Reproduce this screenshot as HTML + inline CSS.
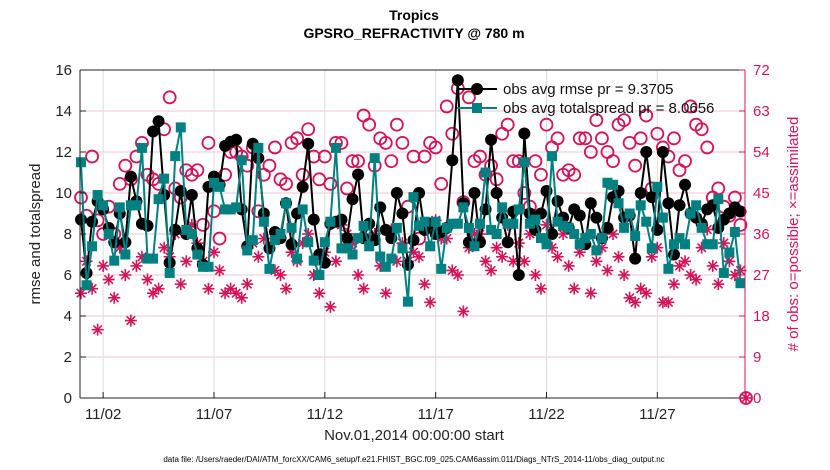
<!DOCTYPE html>
<html><head><meta charset="utf-8"><style>
body{margin:0;background:#fff;}
svg{display:block;font-family:"Liberation Sans",sans-serif;}
</style></head><body>
<svg id="chart" width="830" height="470" xmlns="http://www.w3.org/2000/svg"></svg>
<script>
const rmse=[8.7,6.1,8.6,9.6, 9.2,8.3,7.6,9.0, 7.6,10.8,9.6,8.5, 8.4,13.0,13.5,9.9, 6.6,8.2,10.1,8.0, 9.9,7.3,6.5,10.3, 10.8,10.4,12.3,12.5, 12.6,9.2,7.4,12.4, 11.7,9.0,7.3,8.1, 7.8,9.5,7.5,9.0, 10.3,12.4,8.7,7.0, 6.6,8.5,8.6,8.7, 7.8,9.7,10.9,7.8, 8.5,7.7,9.3,8.2, 7.8,10.0,9.0,6.5, 7.7,10.0,8.2,8.5, 8.0,8.1,8.3,11.6, 15.5,9.5,7.6,10.0, 7.6,9.2,12.6,10.0, 8.8,7.6,9.1,6.0, 12.9,9.0,8.2,9.0, 10.1,8.0,9.6,8.8, 8.3,9.2,8.9,7.5, 9.5,8.8,7.8,8.3, 9.8,10.1,8.8,8.9, 6.8,10.0,12.0,9.8, 8.2,12.0,9.5,7.0, 9.4,10.4,9.0,8.8, 8.5,9.2,9.4,8.3, 8.7,9.0,9.3,9.1];
const spread=[11.5,5.5,7.4,9.9, 9.4,8.0,6.7,9.3, 7.0,9.4,9.4,12.2, 6.8,6.8,9.7,10.7, 6.1,11.8,13.2,8.2, 8.0,7.0,6.4,6.4, 10.5,10.3,9.2,9.2, 9.3,11.6,7.2,7.7, 12.2,8.6,6.3,7.7, 8.0,9.5,8.3,6.8, 9.2,7.6,6.7,6.0, 7.6,8.6,12.2,7.3, 7.3,7.0,7.8,8.4, 7.4,11.7,6.9,6.4, 6.8,8.3,7.3,4.7, 9.8,8.4,8.6,7.4, 8.6,6.3,8.3,8.5, 8.5,9.3,8.3,7.4, 8.5,11.0,8.2,8.0, 9.3,8.5,8.5,9.2, 11.5,8.5,8.7,7.8, 7.5,11.8,8.6,8.4, 8.3,8.0,7.5,7.8, 8.0,7.2,7.8,10.5, 10.4,9.5,8.3,9.0, 7.9,9.4,8.6,7.3, 10.3,8.8,6.3,7.5, 7.8,7.5,9.0,9.4, 8.3,7.5,7.5,9.7, 6.1,7.1,8.1,5.6];
const possible=[44,40,53,39, 36,42,36,47, 51,48,53,56, 49,48,47,59, 66,46,44,50, 49,50,38,56, 41,35,49,54, 54,53,51,55, 41,49,51,55, 48,47,56,57, 49,59,53,48, 53,47,56,56, 46,52,52,62, 60,51,57,56, 52,60,56,42, 53,35,53,56, 55,47,64,58, 68,43,66,52, 53,49,51,48, 58,60,52,52, 45,42,52,49, 60,55,57,49, 50,49,57,57, 54,61,57,54, 52,60,61,56, 51,57,62,46, 58,55,53,57, 50,52,64,60, 59,55,44,46, 42,40,44,38, 0];
const assim=[23,30,24,15, 29,26,22,33, 27,17,29,31, 26,23,24,33, 31,36,25,30, 38,34,30,24, 32,28,23,24, 23,22,25,34, 31,35,33,28, 27,24,32,30, 34,36,27,23, 32,20,30,38, 36,34,27,24, 35,36,29,23, 37,30,34,30, 32,31,25,21, 39,35,35,28, 27,19,33,36, 36,30,28,33, 31,38,30,34, 30,36,27,24, 38,33,31,36, 29,24,32,35, 23,30,33,28, 36,31,27,22, 21,24,23,31, 33,21,21,25, 29,30,27,26, 33,37,29,25, 34,30,27,28, 0];
const xTicks=[1,6,11,16,21,26];
const xTickLabels=["11/02","11/07","11/12","11/17","11/22","11/27"];
const yTicks=[0,2,4,6,8,10,12,14,16];
const y2Ticks=[0,9,18,27,36,45,54,63,72];

const NS="http://www.w3.org/2000/svg";
const svg=document.getElementById('chart');
const L=80,R=745,T=70,B=398;
const PINK="#d4145a",TEAL="#008080";
const xs=t=>L+1+(R-L)/30*t;
const ys=v=>B-(B-T)*v/16;
const ys2=v=>B-(B-T)*v/72;
function el(tag,attrs,parent){const e=document.createElementNS(NS,tag);for(const k in attrs)e.setAttribute(k,attrs[k]);(parent||svg).appendChild(e);return e;}
function txt(s,attrs,parent){const e=el('text',attrs,parent);e.textContent=s;return e;}

// grid
const grid=el('g',{});


yTicks.forEach(v=>{if(v>0&&v<16)el('line',{x1:L,x2:R,y1:ys(v),y2:ys(v),stroke:'#f2c6d6','stroke-width':1},grid);});
xTicks.forEach(t=>el('line',{x1:xs(t),x2:xs(t),y1:T,y2:B,stroke:'#dcdcdc','stroke-width':1},grid));

// series
const tOf=i=>i*0.25;
const plot=el('g',{});


function star(cx,cy,parent){
  const g=el('g',{stroke:PINK,'stroke-width':1.6},parent);
  const r=6;
  for(let k=0;k<4;k++){const a=Math.PI/4*k;el('line',{x1:cx-r*Math.cos(a),y1:cy-r*Math.sin(a),x2:cx+r*Math.cos(a),y2:cy+r*Math.sin(a)},g);}
  return g;
}
// possible circles
possible.forEach((v,i)=>{const c=el('circle',{cx:xs(tOf(i)),cy:ys2(v),r:6,fill:'none',stroke:PINK,'stroke-width':1.8},plot);

});
// assimilated stars
assim.forEach((v,i)=>{const g=star(xs(tOf(i)),ys2(v),plot);

});
// rmse line
const rl=el('polyline',{points:rmse.map((v,i)=>xs(tOf(i))+','+ys(v)).join(' '),fill:'none',stroke:'#000','stroke-width':2},plot);


rmse.forEach((v,i)=>{const c=el('circle',{cx:xs(tOf(i)),cy:ys(v),r:6,fill:'#000'},plot);

});
// spread line
const sl=el('polyline',{points:spread.map((v,i)=>xs(tOf(i))+','+ys(v)).join(' '),fill:'none',stroke:TEAL,'stroke-width':2},plot);


spread.forEach((v,i)=>{const r=el('rect',{x:xs(tOf(i))-5,y:ys(v)-5,width:10,height:10,fill:TEAL},plot);

});

// axes box
el('line',{x1:L,x2:R,y1:T,y2:T,stroke:'#222','stroke-width':1});
el('line',{x1:L,x2:R,y1:B,y2:B,stroke:'#222','stroke-width':1});
el('line',{x1:L,x2:L,y1:T,y2:B,stroke:'#222','stroke-width':1});
el('line',{x1:R,x2:R,y1:T,y2:B,stroke:PINK,'stroke-width':1});
yTicks.forEach(v=>{el('line',{x1:L,x2:L+6,y1:ys(v),y2:ys(v),stroke:'#222'});
const t=txt(String(v),{x:L-8,y:ys(v)+5,'text-anchor':'end','font-size':15,fill:'#222'});

});
y2Ticks.forEach(v=>{el('line',{x1:R-6,x2:R,y1:ys2(v),y2:ys2(v),stroke:PINK});
const t=txt(String(v),{x:R+8,y:ys2(v)+5,'font-size':15,fill:PINK});

});
xTicks.forEach((t0,i)=>{el('line',{x1:xs(t0),x2:xs(t0),y1:B,y2:B-6,stroke:'#222'});
const t=txt(xTickLabels[i],{x:xs(t0),y:B+21,'text-anchor':'middle','font-size':15,fill:'#222'});

});
</script>
<svg width="830" height="470" style="position:absolute;left:0;top:0">
<text x="414" y="20" text-anchor="middle" font-size="14" font-weight="bold" font-family="Liberation Sans,sans-serif" fill="#000">Tropics</text>
<text x="414" y="38" text-anchor="middle" font-size="14" font-weight="bold" font-family="Liberation Sans,sans-serif" fill="#000">GPSRO_REFRACTIVITY @ 780 m</text>
<text transform="translate(40,234) rotate(-90)" text-anchor="middle" font-size="15" font-family="Liberation Sans,sans-serif" fill="#222">rmse and totalspread</text>
<text transform="translate(798,234) rotate(-90)" text-anchor="middle" font-size="15" font-family="Liberation Sans,sans-serif" fill="#d4145a"># of obs: o=possible; ×=assimilated</text>
<text x="414" y="440" text-anchor="middle" font-size="15" font-family="Liberation Sans,sans-serif" fill="#222">Nov.01,2014 00:00:00 start</text>
<text x="414" y="462" text-anchor="middle" font-size="8" font-family="Liberation Sans,sans-serif" fill="#000">data file: /Users/raeder/DAI/ATM_forcXX/CAM6_setup/f.e21.FHIST_BGC.f09_025.CAM6assim.011/Diags_NTrS_2014-11/obs_diag_output.nc</text>
<g font-family="Liberation Sans,sans-serif" font-size="15">
<line x1="457" x2="497" y1="89" y2="89" stroke="#000" stroke-width="2"/>
<circle cx="477" cy="89" r="6" fill="#000"/>
<text x="503" y="94" fill="#111">obs avg rmse pr = 9.3705</text>
<line x1="457" x2="497" y1="108" y2="108" stroke="#008080" stroke-width="2"/>
<rect x="472" y="103" width="10" height="10" fill="#008080"/>
<text x="503" y="113" fill="#111">obs avg totalspread pr = 8.0656</text>
</g>
</svg>
</body></html>
